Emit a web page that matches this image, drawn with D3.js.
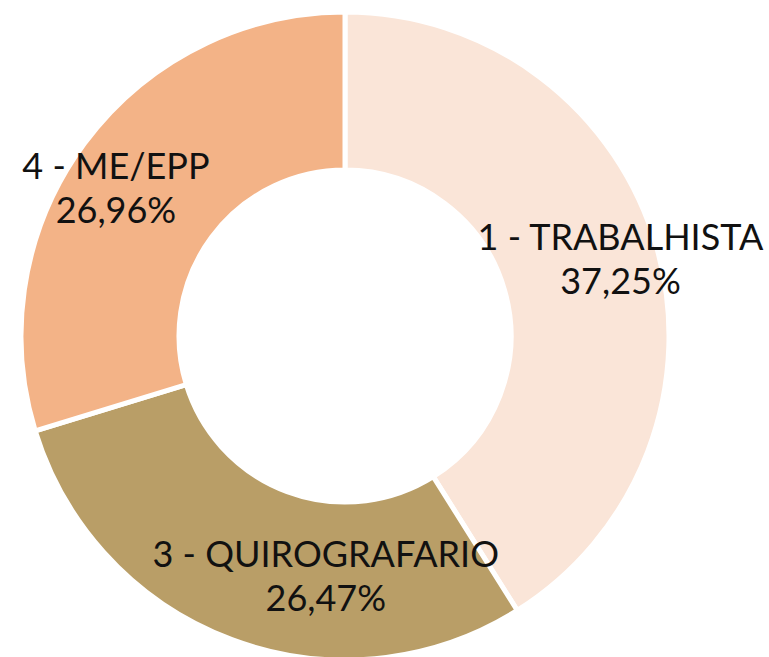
<!DOCTYPE html>
<html>
<head>
<meta charset="utf-8">
<script src="https://cdn.jsdelivr.net/npm/d3@7"></script>
<style>
  html, body { margin: 0; padding: 0; background: #fff; }
  svg { display: block; }
</style>
</head>
<body>
<svg id="chart"></svg>
<script>
// Chart data
const categories = ["1 - TRABALHISTA", "3 - QUIROGRAFARIO", "4 - ME/EPP"];
const values = [37.25, 26.47, 26.96];
const valueLabels = ["37,25%", "26,47%", "26,96%"];
const colors = ["#FAE5D8", "#B99E67", "#F3B387"];

const width = 769;
const height = 657;
const cx = 345;
const cy = 336;
const outerR = 324;
const innerR = 166;
const labelR = 270;
// small nudges so labels sit where the original placed them
const labelNudge = [[16, -11], [75, -22], [-12, 4]];

const svg = d3.select("#chart")
  .attr("width", width)
  .attr("height", height);

const g = svg.append("g").attr("transform", `translate(${cx},${cy})`);

const pie = d3.pie().sort(null).value((d) => d);
const arcs = pie(values);

const arc = d3.arc().innerRadius(innerR).outerRadius(outerR);
const labelArc = d3.arc().innerRadius(labelR).outerRadius(labelR);

g.selectAll("path.slice")
  .data(arcs)
  .join("path")
  .attr("class", "slice")
  .attr("d", arc)
  .attr("fill", (d, i) => colors[i])
  .attr("stroke", "#fff")
  .attr("stroke-width", 5)
  .attr("stroke-linejoin", "miter");

const labels = g.selectAll("text.label")
  .data(arcs)
  .join("text")
  .attr("class", "label")
  .attr("transform", (d, i) => {
    const c = labelArc.centroid(d);
    return `translate(${c[0] + labelNudge[i][0]},${c[1] + labelNudge[i][1]})`;
  })
  .attr("text-anchor", "middle")
  .attr("font-family", "Lato, 'DejaVu Sans', sans-serif")
  .attr("font-size", 36)
  .attr("fill", "#111");

labels.append("tspan")
  .attr("x", 0)
  .attr("y", 0)
  .text((d, i) => categories[i]);

labels.append("tspan")
  .attr("x", 0)
  .attr("y", 44)
  .text((d, i) => valueLabels[i]);
</script>
</body>
</html>
